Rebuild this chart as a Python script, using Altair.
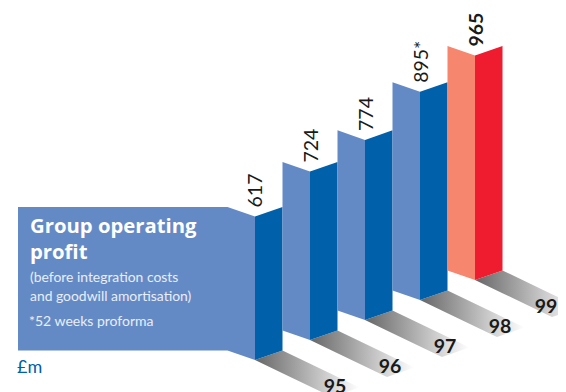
import altair as alt
import pandas as pd

years = ["95", "96", "97", "98", "99"]
values = [617, 724, 774, 895, 965]
value_labels = ["617", "724", "774", "895*", "965"]
label_weights = ["normal", "normal", "normal", "normal", "bold"]
light_colors = ["#648AC6", "#648AC6", "#648AC6", "#648AC6", "#F6866D"]
dark_colors = ["#0060A9", "#0060A9", "#0060A9", "#0060A9", "#EE1C2E"]
panel_lines = ["Group operating", "profit", "(before integration costs",
               "and goodwill amortisation)", "*52 weeks proforma"]
unit_label = "£m"

W, H = 550, 384
PX_PER_UNIT = 27.5      # one x unit = half a bar
PX_PER_GBP = 0.2326     # drawn height of £1m
X0_PAGE, Y0_PAGE = 255, 360   # page position of the first bar's front foot
x_u = lambda px: (px - X0_PAGE) / PX_PER_UNIT
y_u = lambda py: (Y0_PAGE - py) / PX_PER_GBP
STEP_Y = 20 / PX_PER_GBP
FOLD = 9.6 / PX_PER_GBP
SH_DX, SH_DY = 2.8, 37 / PX_PER_GBP

faces, shadows, val_txt, yr_txt = [], [], [], []
for i, (yr, v, lab, wt, lc, dc) in enumerate(zip(years, values, value_labels, label_weights, light_colors, dark_colors)):
    f = 2 * i
    b = i * STEP_Y
    if i == 0:
        faces.append(dict(s="l0", c=lc, x=x_u(18), y=b + FOLD + v, y2=b + FOLD))
    faces.append(dict(s=f"l{i}", c=lc, x=f - 1, y=b + FOLD + v, y2=b + FOLD))
    faces.append(dict(s=f"l{i}", c=lc, x=f, y=b + v, y2=b))
    faces.append(dict(s=f"d{i}", c=dc, x=f, y=b + v, y2=b))
    faces.append(dict(s=f"d{i}", c=dc, x=f + 1, y=b + FOLD + v, y2=b + FOLD))
    slope_d = SH_DY / SH_DX
    shadows += [
        dict(s=i, x=f, y=b, y2=b),
        dict(s=i, x=f + 1, y=b + FOLD, y2=b - slope_d),
        dict(s=i, x=f + SH_DX, y=b + FOLD - slope_d * (SH_DX - 1), y2=b - SH_DY),
        dict(s=i, x=f + SH_DX + 1, y=b + FOLD - SH_DY, y2=b + FOLD - SH_DY),
    ]
    val_txt.append(dict(t=lab, w=wt, x=f + (1 + (i > 0)) / PX_PER_UNIT, y=b + v + 9 / PX_PER_GBP))
    # the last year label is pulled in so that it stays inside the page
    yr_dx = 71 if i == len(years) - 1 else 80
    yr_txt.append(dict(t=yr, x=f + yr_dx / PX_PER_UNIT, y=b - 27 / PX_PER_GBP))

x_scale = alt.Scale(domain=[x_u(8), x_u(8 + W)], nice=False, zero=False)
y_scale = alt.Scale(domain=[y_u(8 + H), y_u(8)], nice=False, zero=False)
X = alt.X("x:Q", axis=None, scale=x_scale)
Y = alt.Y("y:Q", axis=None, scale=y_scale, stack=None)

grad = alt.LinearGradient(gradient="linear", x1=0, y1=0, x2=1, y2=0,
                          stops=[alt.GradientStop(offset=0, color="#666666"),
                                 alt.GradientStop(offset=1, color="#FFFFFF")])

shadow = alt.Chart(pd.DataFrame(shadows)).mark_area(color=grad).encode(
    x=X, y=Y, y2="y2:Q", detail="s:N")

face = alt.Chart(pd.DataFrame(faces)).mark_area().encode(
    x=X, y=Y, y2="y2:Q", detail="s:N",
    color=alt.Color("c:N", scale=None))

val_df = pd.DataFrame(val_txt)
def val_layer(weight):
    return alt.Chart(val_df[val_df.w == weight]).mark_text(
        font="Lato", fontSize=19.5, fontWeight=weight, angle=270, align="left",
        baseline="middle", color="#1a1a1a"
    ).encode(x=X, y=Y, text="t:N")

yrs = alt.Chart(pd.DataFrame(yr_txt)).mark_text(
    font="Lato", fontSize=19.5, fontWeight="bold", align="center", baseline="middle", color="#1a1a1a"
).encode(x=X, y=Y, text="t:N")

panel_rows = [
    dict(t=panel_lines[0], x=x_u(30), y=y_u(227), s=20.3, w="bold", c="#FFFFFF", f="Open Sans"),
    dict(t=panel_lines[1], x=x_u(30), y=y_u(253), s=20.3, w="bold", c="#FFFFFF", f="Open Sans"),
    dict(t=panel_lines[2], x=x_u(30), y=y_u(278), s=13.9, w="normal", c="#E8EEF7", f="Lato"),
    dict(t=panel_lines[3], x=x_u(30), y=y_u(297), s=13.9, w="normal", c="#E8EEF7", f="Lato"),
    dict(t=panel_lines[4], x=x_u(29), y=y_u(322), s=14, w="normal", c="#E8EEF7", f="Lato"),
    dict(t=unit_label, x=x_u(17), y=y_u(368), s=18, w="normal", c="#0060A9", f="Lato"),
]
panel_df = pd.DataFrame(panel_rows)
def panel_layer(weight, font):
    sel = panel_df[(panel_df.w == weight) & (panel_df.f == font)]
    return alt.Chart(sel).mark_text(
        font=font, fontWeight=weight, align="left", baseline="middle"
    ).encode(x=X, y=Y, text="t:N",
             size=alt.Size("s:Q", scale=None),
             color=alt.Color("c:N", scale=None))

chart = alt.layer(shadow, face, val_layer("normal"), val_layer("bold"), yrs,
                  panel_layer("bold", "Open Sans"), panel_layer("normal", "Lato")).properties(
    width=W, height=H, padding=0, autosize=alt.AutoSizeParams(type="none"),
    background="white"
).configure_view(stroke=None)

chart.save("out.html", embed_options={"renderer": "svg", "actions": False})
